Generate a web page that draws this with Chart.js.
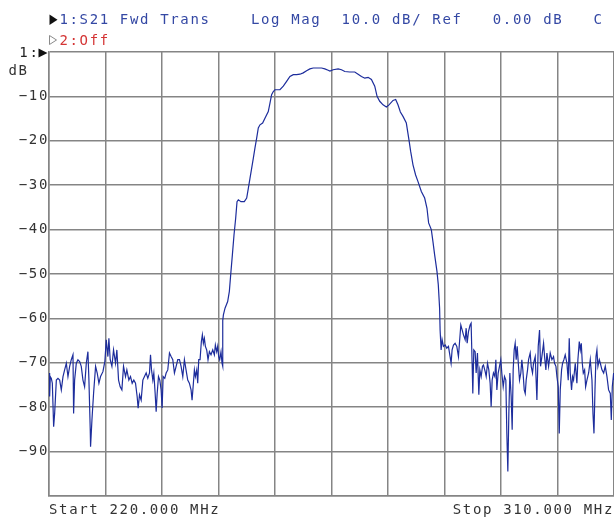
<!DOCTYPE html>
<html>
<head>
<meta charset="utf-8">
<script src="https://cdn.jsdelivr.net/npm/chart.js@4/dist/chart.umd.min.js"></script>
<style>
  html, body { margin: 0; padding: 0; background: #fff; }
  #trace { display: block; }
</style>
</head>
<body>
<canvas id="trace" width="614" height="519"></canvas>
<script>
// S21 trace (MHz / dB)
var freqMHz = [
  220.00, 220.10, 220.21, 220.37, 220.53, 220.74, 220.90, 221.17, 221.43, 221.70,
  221.96, 222.23, 222.49, 222.76, 223.02, 223.29, 223.55, 223.82, 223.92, 224.08,
  224.35, 224.61, 224.88, 225.14, 225.41, 225.67, 225.94, 226.20, 226.36, 226.57,
  226.62, 226.84, 227.10, 227.42, 227.68, 227.95, 228.21, 228.59, 228.90, 229.12,
  229.38, 229.54, 229.75, 230.02, 230.28, 230.60, 230.81, 231.08, 231.34, 231.61,
  231.87, 232.19, 232.40, 232.72, 232.98, 233.25, 233.51, 233.78, 234.04, 234.20,
  234.42, 234.68, 234.95, 235.21, 235.48, 235.74, 236.01, 236.17, 236.33, 236.54,
  236.70, 236.91, 237.07, 237.23, 237.44, 237.65, 237.86, 238.02, 238.18, 238.44,
  238.66, 238.92, 239.19, 239.45, 239.72, 239.98, 240.25, 240.51, 240.78, 241.04,
  241.31, 241.57, 241.83, 242.10, 242.36, 242.63, 242.79, 243.00, 243.16, 243.32,
  243.53, 243.69, 243.85, 244.06, 244.27, 244.43, 244.59, 244.75, 244.91, 245.12,
  245.33, 245.55, 245.81, 246.08, 246.34, 246.50, 246.71, 246.87, 247.03, 247.19,
  247.40, 247.56, 247.65, 247.70, 247.78, 248.04, 248.46, 248.73, 248.94, 249.21,
  249.47, 249.74, 249.95, 250.16, 250.58, 251.11, 251.49, 251.75, 252.02, 252.28,
  252.55, 252.81, 253.08, 253.34, 253.61, 254.03, 254.40, 254.93, 255.20, 255.46,
  255.73, 255.99, 256.79, 257.32, 257.85, 258.38, 258.91, 259.44, 259.97, 260.50,
  261.03, 261.56, 262.09, 262.88, 263.41, 263.94, 264.47, 264.75, 265.26, 266.06,
  266.59, 267.12, 267.91, 268.71, 269.24, 269.77, 270.30, 270.83, 271.36, 271.89,
  272.26, 272.68, 273.21, 273.74, 274.16, 274.80, 275.22, 275.59, 275.97, 276.39,
  276.92, 277.34, 277.61, 277.98, 278.40, 278.78, 279.31, 279.84, 280.21, 280.47,
  280.90, 281.16, 281.43, 281.80, 282.01, 282.22, 282.30, 282.46, 282.62, 282.83,
  283.10, 283.36, 283.63, 283.89, 284.05, 284.21, 284.43, 284.69, 284.96, 285.22,
  285.38, 285.60, 285.81, 286.02, 286.29, 286.45, 286.61, 286.82, 287.08, 287.24,
  287.40, 287.51, 287.67, 287.88, 288.04, 288.25, 288.47, 288.63, 288.84, 289.05,
  289.21, 289.48, 289.64, 289.85, 290.06, 290.27, 290.43, 290.59, 290.80, 291.02,
  291.18, 291.34, 291.55, 291.76, 291.97, 292.13, 292.35, 292.56, 292.77, 292.93,
  293.09, 293.25, 293.41, 293.62, 293.78, 293.94, 294.10, 294.26, 294.42, 294.58,
  294.79, 294.95, 295.16, 295.32, 295.48, 295.70, 295.86, 296.01, 296.23, 296.39,
  296.65, 296.81, 297.02, 297.18, 297.45, 297.72, 297.93, 298.14, 298.30, 298.51,
  298.78, 298.94, 299.15, 299.31, 299.58, 299.84, 300.11, 300.37, 300.53, 300.75,
  300.91, 301.12, 301.28, 301.44, 301.65, 301.81, 302.02, 302.23, 302.50, 302.71,
  302.87, 303.03, 303.24, 303.40, 303.56, 303.83, 304.09, 304.25, 304.47, 304.63,
  304.79, 304.95, 305.11, 305.32, 305.48, 305.69, 305.96, 306.22, 306.49, 306.65,
  306.81, 306.97, 307.13, 307.28, 307.44, 307.66, 307.82, 308.08, 308.35, 308.61,
  308.88, 309.14, 309.41, 309.57, 309.73, 309.94, 310.00
];
var s21dB = [
  -72.3, -77.6, -73.1, -73.5, -74.6, -84.4, -81.4, -73.9, -73.5, -73.9,
  -76.1, -73.1, -71.6, -70.1, -73.1, -70.8, -69.3, -68.2, -81.4, -73.9,
  -70.1, -69.3, -69.7, -70.8, -73.9, -75.4, -70.1, -67.5, -73.9, -85.1,
  -88.9, -82.9, -76.9, -70.8, -72.3, -74.6, -73.1, -72.0, -69.7, -64.8,
  -68.6, -64.5, -69.3, -70.8, -67.1, -70.1, -67.1, -73.9, -75.4, -76.1,
  -70.8, -73.1, -71.6, -73.9, -73.1, -74.6, -73.9, -74.6, -77.6, -80.2,
  -77.2, -78.4, -73.9, -73.1, -72.3, -73.5, -72.3, -68.2, -71.6, -73.9,
  -72.3, -76.9, -81.0, -76.9, -73.1, -73.9, -76.1, -80.2, -73.1, -73.5,
  -72.3, -71.6, -67.8, -68.6, -69.3, -72.3, -70.8, -69.3, -69.3, -70.8,
  -73.1, -69.3, -71.6, -73.9, -74.6, -76.1, -78.4, -74.6, -71.6, -73.1,
  -71.6, -74.6, -69.3, -69.3, -65.2, -63.7, -65.6, -64.5, -66.3, -67.1,
  -69.3, -67.5, -68.2, -67.1, -68.2, -66.0, -67.5, -66.3, -68.6, -69.3,
  -67.5, -70.1, -70.8, -60.5, -59.2, -57.7, -56.2, -53.9, -50.2, -45.7,
  -41.2, -37.4, -33.7, -33.3, -33.7, -33.7, -32.9, -30.7, -28.4, -26.2,
  -23.9, -21.6, -19.4, -17.1, -16.4, -16.0, -14.9, -13.4, -11.5, -9.6,
  -8.9, -8.5, -8.5, -7.7, -6.6, -5.5, -5.1, -5.1, -5.0, -4.7,
  -4.2, -3.8, -3.6, -3.6, -3.6, -3.8, -4.1, -4.3, -4.0, -3.8,
  -4.0, -4.4, -4.5, -4.5, -5.0, -5.5, -5.9, -5.7, -6.2, -7.7,
  -10.0, -11.1, -11.9, -12.4, -11.9, -10.9, -10.7, -11.9, -13.5, -14.5,
  -16.0, -19.8, -22.4, -25.4, -27.7, -29.2, -31.4, -32.9, -35.2, -38.5,
  -40.0, -42.7, -45.7, -49.4, -52.4, -57.7, -62.6, -67.1, -64.8, -66.3,
  -66.0, -66.7, -66.3, -68.6, -70.1, -67.1, -66.0, -65.6, -66.3, -68.6,
  -65.6, -61.5, -62.6, -63.7, -64.8, -62.2, -65.6, -63.0, -61.5, -61.1,
  -70.1, -76.9, -67.1, -67.5, -72.3, -67.8, -77.2, -71.6, -73.1, -70.8,
  -70.5, -72.0, -73.1, -70.1, -71.6, -74.6, -79.9, -73.9, -72.3, -73.1,
  -69.3, -76.1, -72.3, -70.8, -69.3, -72.3, -75.4, -73.1, -73.9, -85.9,
  -94.5, -81.4, -72.3, -77.6, -85.1, -71.6, -67.1, -65.6, -69.3, -66.3,
  -70.8, -73.9, -72.3, -69.3, -71.6, -76.1, -76.9, -73.9, -71.6, -69.3,
  -67.8, -70.8, -72.3, -70.1, -68.6, -78.4, -66.3, -62.6, -70.8, -68.6,
  -65.6, -68.6, -71.6, -67.8, -70.8, -67.8, -69.3, -68.6, -70.1, -70.8,
  -73.1, -75.4, -85.9, -76.1, -71.6, -70.1, -69.3, -68.2, -70.1, -73.9,
  -64.5, -72.3, -76.1, -73.1, -73.9, -70.1, -74.6, -69.3, -65.2, -67.1,
  -65.6, -70.1, -72.3, -71.6, -75.4, -73.9, -72.3, -69.3, -73.9, -81.4,
  -85.9, -76.1, -68.6, -67.1, -70.8, -69.3, -70.1, -71.6, -72.3, -70.8,
  -73.1, -76.1, -76.9, -82.9, -75.4, -72.3, -73.9
];

// grid divisions and their labels
var xGridMHz = [220, 229, 238, 247, 256, 265, 274, 283, 292, 301, 310];
var yGridDB = [0, -10, -20, -30, -40, -50, -60, -70, -80, -90, -100];
var yTickLabels = ['', '\u221210', '\u221220', '\u221230', '\u221240', '\u221250', '\u221260', '\u221270', '\u221280', '\u221290', ''];
var xEndLabels = ['Start 220.000 MHz', 'Stop 310.000 MHz'];

// header annotation lines
var headerTrace1 = '1:S21 Fwd Trans    Log Mag  10.0 dB/ Ref   0.00 dB   C';
var headerTrace2 = '2:Off';
var refMarker = '1:';
var unitLabel = 'dB';

var MONO = '"DejaVu Sans Mono", monospace';
var GRID = '#858585';

var points = freqMHz.map(function(f, i) { return { x: f, y: s21dB[i] }; });

function tri(ctx, x, y, w, h, fill) {
  ctx.beginPath();
  ctx.moveTo(x, y);
  ctx.lineTo(x + w, y + h / 2);
  ctx.lineTo(x, y + h);
  ctx.closePath();
  if (fill) { ctx.fill(); } else { ctx.stroke(); }
}

// spacing plugin: wide monospace look of the instrument font
var letterSpace = {
  id: 'letterSpace',
  beforeDraw: function(chart) { chart.ctx.letterSpacing = '1.65px'; }
};

// header texts drawn above the grid
var header = {
  id: 'header',
  afterDraw: function(chart) {
    var ctx = chart.ctx;
    ctx.save();
    ctx.letterSpacing = '1.65px';
    ctx.font = '14px ' + MONO;
    ctx.textBaseline = 'middle';
    ctx.textAlign = 'left';

    ctx.fillStyle = '#111';
    tri(ctx, 49.5, 14.5, 8, 10.5, true);
    ctx.fillStyle = '#3448a4';
    ctx.fillText(headerTrace1, 59.4, 20.5);

    ctx.strokeStyle = '#8a8a8a';
    ctx.lineWidth = 1;
    tri(ctx, 49.5, 35.5, 7, 9, false);
    ctx.fillStyle = '#d43535';
    ctx.fillText(headerTrace2, 59.4, 41);

    ctx.fillStyle = '#222';
    ctx.textAlign = 'right';
    ctx.fillText(refMarker, 39.5, 53.5);
    ctx.fillStyle = '#111';
    tri(ctx, 38.5, 48.5, 9, 9, true);

    ctx.fillStyle = '#333';
    ctx.textAlign = 'left';
    ctx.fillText(unitLabel, 8.5, 71.5);
    ctx.restore();
  }
};

new Chart(document.getElementById('trace'), {
  type: 'line',
  data: {
    datasets: [{
      data: points,
      borderColor: '#1d2d9c',
      borderWidth: 1.2,
      pointRadius: 0,
      tension: 0,
      fill: false
    }]
  },
  options: {
    responsive: false,
    animation: false,
    devicePixelRatio: 1,
    layout: { padding: { top: 52, left: 0, right: 0, bottom: 0 } },
    plugins: { legend: { display: false }, tooltip: { enabled: false } },
    scales: {
      x: {
        type: 'linear',
        min: 220,
        max: 310,
        afterBuildTicks: function(scale) {
          scale.ticks = xGridMHz.map(function(v) { return { value: v }; });
        },
        afterFit: function(scale) {
          scale.height = 23;
          scale.paddingLeft = 0;
          scale.paddingRight = 0;
        },
        grid: { color: GRID, lineWidth: 1.5, drawTicks: false },
        border: { color: GRID, width: 1.5 },
        ticks: {
          autoSkip: false,
          maxRotation: 0,
          align: 'inner',
          padding: 6,
          color: '#333',
          font: { family: MONO, size: 14 },
          callback: function(v, i, ticks) {
            if (i === 0) return xEndLabels[0];
            if (i === ticks.length - 1) return xEndLabels[1];
            return '';
          }
        }
      },
      y: {
        type: 'linear',
        min: -100,
        max: 0,
        afterBuildTicks: function(scale) {
          scale.ticks = yGridDB.map(function(v) { return { value: v }; });
        },
        afterFit: function(scale) { scale.width = 49; },
        grid: { color: GRID, lineWidth: 1.5, drawTicks: false },
        border: { color: GRID, width: 1.5 },
        ticks: {
          autoSkip: false,
          padding: 0,
          color: '#333',
          font: { family: MONO, size: 14 },
          callback: function(v) {
            var i = yGridDB.indexOf(v);
            return i >= 0 ? yTickLabels[i] : '';
          }
        }
      }
    }
  },
  plugins: [letterSpace, header]
});
</script>
</body>
</html>
